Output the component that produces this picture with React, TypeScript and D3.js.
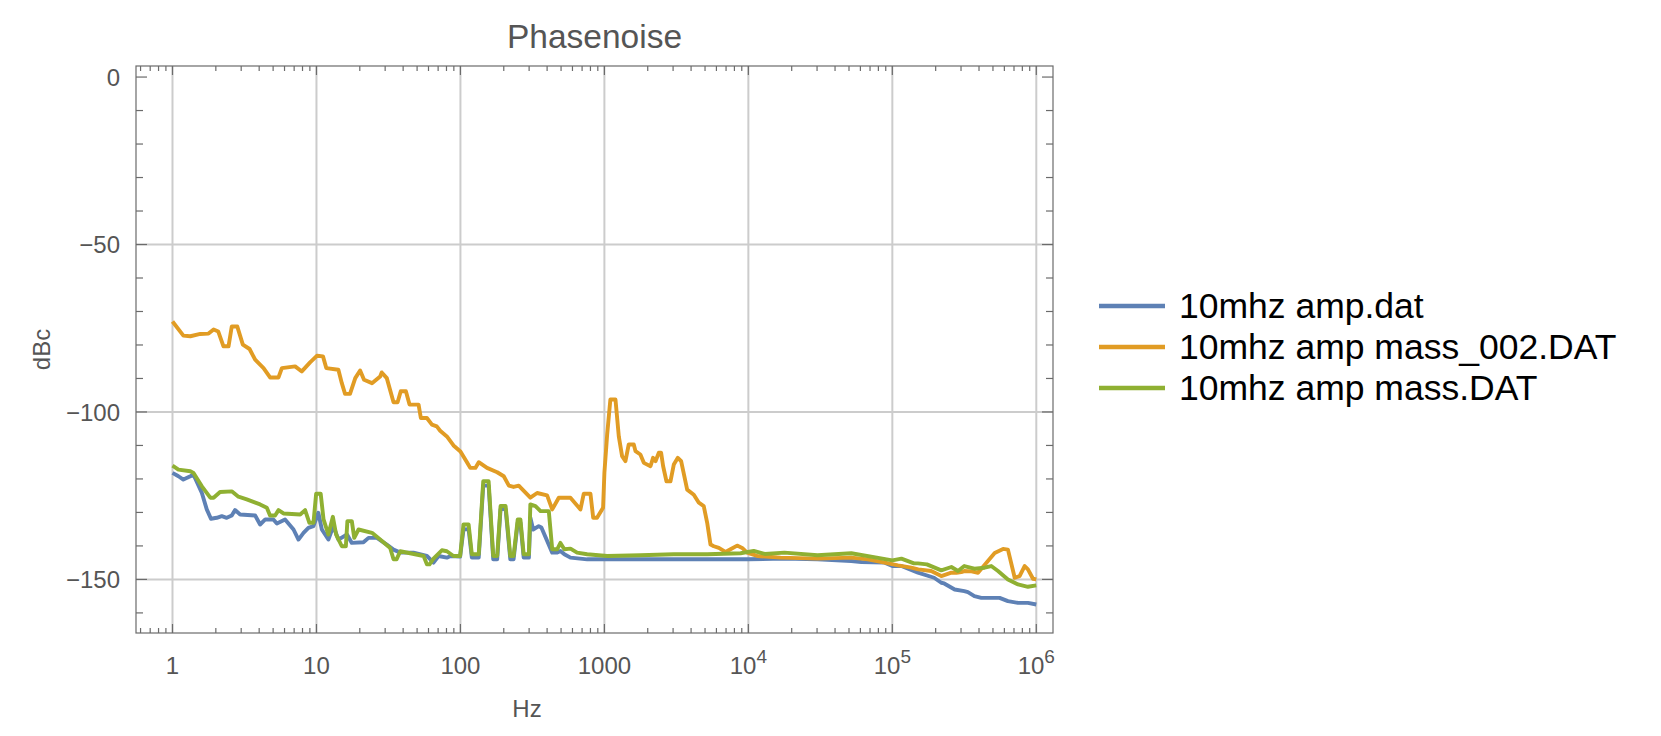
import React, { useEffect, useRef } from "react";
import * as d3 from "d3";

const W = 1661;
const H = 736;

// frame of the plot area (px)
const frame = { left: 136, right: 1053, top: 66, bottom: 633 };

const colors = {
  AMP: "#5E81B5",
  MASS_002: "#E19C24",
  MASS: "#8FB032",
  FRAME: "#6b6b6b",
  GRID: "#cccccc",
  TEXT: "#555555",
};

const legendLabels = ["10mhz amp.dat", "10mhz amp mass_002.DAT", "10mhz amp mass.DAT"];
const xMajorTicks = [1, 10, 100, 1000, 1e4, 1e5, 1e6];
const yMajorTicks = [0, -50, -100, -150];
const yGridValues = [-50, -100, -150];

// 10mhz amp.dat
const ampHz = [
  1, 1.1, 1.19, 1.33, 1.4, 1.6, 1.73, 1.85, 2.03, 2.2, 2.38, 2.58, 2.72, 2.95, 3.75, 4.06, 4.41, 5.02, 5.31, 6.05,
  6.93, 7.5, 8.13, 8.79, 9.53, 10.3, 10.9, 12.1, 13.1, 14.2, 16.3, 17.6, 21.2, 23, 26.3, 30.8, 34.3, 38.2, 47.2,
  58.5, 65, 70.5, 80.5, 85.3, 99.5, 105, 114, 120, 134, 144, 157, 169, 180, 190, 206, 222, 234, 250, 261, 275, 299,
  306, 320, 350, 365, 434, 470, 495, 527, 581, 759, 1000, 3000, 10000, 17780, 30200, 51880, 60950, 88510, 100000,
  115600, 150700, 195000, 218800, 229100, 271000, 316200, 335000, 371500, 415000, 486400, 556000, 635300, 746400,
  875000, 1000000,
];
const ampDb = [
  -118.2, -119.2, -120.2, -119.2, -118.7, -124.2, -129.1, -131.9, -131.6, -131.1, -131.6, -130.9, -129.3, -130.6,
  -130.9, -133.6, -132.1, -132.1, -133.3, -132.1, -135.1, -138.1, -136.1, -134.6, -134.1, -130.1, -135.1, -138.1,
  -134.1, -138.1, -136.6, -139.1, -138.9, -137.6, -137.6, -139.6, -141.1, -142, -142, -143, -145, -143, -143.5,
  -143, -143.2, -135.1, -135, -143.5, -143.5, -122, -122, -144, -144, -129, -129, -144, -144, -133, -133, -143.5,
  -143.5, -131.6, -135.1, -134.1, -134.5, -142, -142, -141.5, -142.5, -143.5, -144, -144, -144, -144, -143.8,
  -144, -144.5, -144.8, -145, -146, -146, -148, -149.5, -151, -151.2, -153, -153.5, -153.8, -155, -155.5, -155.5,
  -155.5, -156.5, -157, -157, -157.5,
];

// 10mhz amp mass_002.DAT
const mass002Hz = [
  1, 1.19, 1.33, 1.56, 1.78, 1.93, 2.08, 2.26, 2.45, 2.58, 2.82, 3.08, 3.43, 3.75, 4.29, 4.76, 5.45, 5.75, 7.11,
  7.91, 9.03, 10.1, 11.1, 11.7, 14.2, 15, 15.8, 17.1, 18.6, 20.1, 21.4, 24.3, 27.7, 28.4, 30.8, 34.3, 36.6, 38.5,
  41.8, 44.3, 51.2, 53.1, 58.5, 63.4, 68.5, 72.3, 80.5, 89.5, 100, 111, 117, 127, 134, 153, 180, 200, 217, 234,
  254, 306, 341, 400, 434, 482, 581, 682, 719, 800, 836, 889, 979, 1000, 1045, 1100, 1194, 1259, 1327, 1400, 1476,
  1600, 1644, 1778, 1879, 2089, 2178, 2265, 2388, 2477, 2559, 2698, 2877, 3034, 3236, 3412, 3758, 4178, 4529, 4898,
  5176, 5458, 5754, 6237, 6934, 7516, 8356, 9057, 9795, 11510, 16710, 30200, 51880, 67600, 88510, 109600, 135500,
  151400, 186200, 218800, 257000, 278600, 301300, 316200, 354800, 393600, 461300, 514000, 587500, 635300, 707900,
  765600, 829800, 875000, 948400, 1000000,
];
const mass002Db = [
  -73, -77.2, -77.4, -76.7, -76.6, -75.4, -76, -80.4, -80.4, -74.5, -74.5, -79.9, -81.2, -84.4, -86.9, -89.7,
  -89.7, -86.9, -86.4, -87.9, -85.2, -83.2, -83.4, -86.9, -87.4, -91.4, -94.6, -94.6, -89.9, -87.6, -90.4, -91.4,
  -89.4, -88.2, -89.9, -97.1, -97.1, -93.8, -93.8, -97.8, -97.8, -101.8, -101.8, -103.8, -104.3, -105.6, -107.3,
  -110, -111.8, -115, -116.7, -116.7, -115, -116.7, -118, -119.2, -122, -122.4, -122, -125.6, -124.2, -124.9,
  -129.1, -125.6, -125.6, -129.1, -124.4, -124.4, -131.6, -131.6, -128.6, -118.2, -106.8, -96.3, -96.3, -107.3,
  -113.2, -114.7, -109.7, -109.7, -111.7, -112.7, -115.2, -116.2, -113.7, -114.7, -112.2, -112.2, -116.2, -120.7,
  -120.7, -115.7, -113.7, -114.7, -123.2, -124.7, -127.1, -128.1, -133.1, -139.6, -140.1, -140.6, -141.8, -141,
  -139.9, -140.6, -142, -143, -143.5, -143.8, -143.5, -144, -145, -145.8, -146.5, -147, -147.5, -149, -148, -148,
  -147.8, -147.5, -147.6, -148, -144.5, -142.1, -140.9, -141.1, -149.5, -149, -146, -147, -149.8, -150,
];

// 10mhz amp mass.DAT
const massHz = [
  1, 1.1, 1.33, 1.4, 1.6, 1.83, 1.93, 2.14, 2.58, 2.87, 3.28, 4.06, 4.52, 4.76, 5.16, 5.45, 5.9, 7.71, 8.34, 8.93,
  9.53, 9.95, 10.7, 11.2, 12.1, 13, 13.7, 15, 16, 16.4, 17.6, 18.3, 19.6, 24.3, 27.7, 32.5, 34.3, 36, 38.2, 55.5,
  58.5, 61, 65, 74.3, 80.5, 89.5, 99.5, 105, 114, 120, 134, 144, 157, 169, 180, 190, 206, 222, 234, 250, 261, 275,
  299, 306, 332, 360, 411, 434, 470, 495, 527, 581, 646, 759, 1045, 1778, 3034, 5176, 8836, 10900, 13000, 17780,
  30200, 51880, 100000, 115600, 141300, 150700, 173800, 218800, 257000, 285800, 316200, 371500, 437500, 486400,
  542000, 635300, 746400, 875000, 1000000,
];
const massDb = [
  -116, -117.2, -117.7, -118.2, -122.2, -125.6, -125.6, -123.9, -123.7, -125.3, -126.1, -127.6, -128.6, -130.9,
  -130.9, -129.3, -130.3, -130.6, -129.3, -133.1, -133.1, -124.4, -124.4, -132.1, -136.6, -131.3, -136.6, -140.1,
  -140.1, -132.6, -132.6, -137.6, -135.1, -136.1, -138.1, -140.6, -144, -144, -141.6, -143, -145.5, -145.5, -143.8,
  -141.3, -141.6, -143, -143, -133.6, -133.6, -142.5, -142.5, -120.7, -120.7, -143, -143, -128.1, -128.1, -143,
  -143, -132.1, -132.1, -142.5, -142.5, -127.6, -128.1, -129.6, -129.6, -141, -141, -139.1, -141, -140.8, -142,
  -142.5, -143, -142.8, -142.5, -142.5, -142.2, -141.5, -142.4, -142, -142.8, -142.2, -144.3, -143.8, -145.2,
  -145.2, -145.5, -147.3, -146.3, -147.5, -146, -146.8, -146.5, -146, -147.5, -150, -151.5, -152.2, -151.8,
];

const series = [
  { label: legendLabels[0], hz: ampHz, db: ampDb, color: colors.AMP },
  { label: legendLabels[1], hz: mass002Hz, db: mass002Db, color: colors.MASS_002 },
  { label: legendLabels[2], hz: massHz, db: massDb, color: colors.MASS },
];

const FONT = "'Liberation Sans', Arial, sans-serif";

export default function App() {
  const ref = useRef<SVGSVGElement | null>(null);

  useEffect(() => {
    const svg = d3.select(ref.current);
    svg.selectAll("*").remove();

    const x = d3.scaleLog().domain([10 ** -0.2535, 10 ** 6.116]).range([frame.left, frame.right]);
    const y = d3.scaleLinear().domain([3.3, -166]).range([frame.top, frame.bottom]);

    svg.append("rect").attr("width", W).attr("height", H).attr("fill", "white");

    // grid
    const grid = svg.append("g").attr("stroke", colors.GRID).attr("stroke-width", 2);
    xMajorTicks.forEach((v) => {
      grid.append("line").attr("x1", x(v)).attr("x2", x(v)).attr("y1", frame.top).attr("y2", frame.bottom);
    });
    yGridValues.forEach((v) => {
      grid.append("line").attr("x1", frame.left).attr("x2", frame.right).attr("y1", y(v)).attr("y2", y(v));
    });

    // data lines
    svg
      .append("clipPath")
      .attr("id", "plot-clip")
      .append("rect")
      .attr("x", frame.left)
      .attr("y", frame.top)
      .attr("width", frame.right - frame.left)
      .attr("height", frame.bottom - frame.top);

    const line = d3
      .line<[number, number]>()
      .x((d) => x(d[0]))
      .y((d) => y(d[1]));

    const lines = svg.append("g").attr("clip-path", "url(#plot-clip)");
    series.forEach((s) => {
      const pts = s.hz.map((h, i) => [h, s.db[i]] as [number, number]);
      lines
        .append("path")
        .attr("d", line(pts))
        .attr("fill", "none")
        .attr("stroke", s.color)
        .attr("stroke-width", 3.9)
        .attr("stroke-linejoin", "round");
    });

    // frame
    svg
      .append("rect")
      .attr("x", frame.left)
      .attr("y", frame.top)
      .attr("width", frame.right - frame.left)
      .attr("height", frame.bottom - frame.top)
      .attr("fill", "none")
      .attr("stroke", colors.FRAME)
      .attr("stroke-width", 1.2);

    // ticks
    const ticks = svg.append("g").attr("stroke", colors.FRAME).attr("stroke-width", 1.2);
    x.ticks().forEach((v) => {
      const major = Math.abs(Math.log10(v) - Math.round(Math.log10(v))) < 1e-9;
      const len = major ? 9 : 5;
      const px = x(v);
      ticks.append("line").attr("x1", px).attr("x2", px).attr("y1", frame.bottom).attr("y2", frame.bottom - len);
      ticks.append("line").attr("x1", px).attr("x2", px).attr("y1", frame.top).attr("y2", frame.top + len);
    });
    d3.range(-160, 1, 10).forEach((v) => {
      const major = v % 50 === 0;
      const len = major ? 11 : 7;
      const py = y(v);
      ticks.append("line").attr("x1", frame.left).attr("x2", frame.left + len).attr("y1", py).attr("y2", py);
      ticks.append("line").attr("x1", frame.right).attr("x2", frame.right - len).attr("y1", py).attr("y2", py);
    });

    // tick labels
    const labels = svg.append("g").attr("font-family", FONT).attr("fill", colors.TEXT).attr("font-size", 24);
    xMajorTicks.forEach((v) => {
      const e = Math.round(Math.log10(v));
      const t = labels.append("text").attr("x", x(v)).attr("y", 674).attr("text-anchor", "middle");
      if (e < 4) {
        t.text(String(v));
      } else {
        t.append("tspan").text("10");
        t.append("tspan").attr("dy", -11).attr("font-size", 19).text(String(e));
      }
    });
    yMajorTicks.forEach((v) => {
      labels
        .append("text")
        .attr("x", 120)
        .attr("y", y(v))
        .attr("dy", "0.36em")
        .attr("text-anchor", "end")
        .text(v === 0 ? "0" : `\u2212${Math.abs(v)}`);
    });

    // title and axis labels
    svg
      .append("text")
      .attr("x", (frame.left + frame.right) / 2)
      .attr("y", 48)
      .attr("text-anchor", "middle")
      .attr("font-family", FONT)
      .attr("font-size", 33.5)
      .attr("fill", colors.TEXT)
      .text("Phasenoise");
    svg
      .append("text")
      .attr("transform", `translate(50,${(frame.top + frame.bottom) / 2}) rotate(-90)`)
      .attr("text-anchor", "middle")
      .attr("font-family", FONT)
      .attr("font-size", 24)
      .attr("fill", colors.TEXT)
      .text("dBc");
    svg
      .append("text")
      .attr("x", 527)
      .attr("y", 717)
      .attr("text-anchor", "middle")
      .attr("font-family", FONT)
      .attr("font-size", 24)
      .attr("fill", colors.TEXT)
      .text("Hz");

    // legend
    const legend = svg.append("g").attr("font-family", FONT).attr("font-size", 35.5);
    series.forEach((s, i) => {
      const ly = 306 + i * 41;
      legend
        .append("line")
        .attr("x1", 1099)
        .attr("x2", 1165)
        .attr("y1", ly)
        .attr("y2", ly)
        .attr("stroke", s.color)
        .attr("stroke-width", 4.5);
      legend
        .append("text")
        .attr("x", 1179)
        .attr("y", ly)
        .attr("dy", "0.35em")
        .attr("fill", "black")
        .text(s.label);
    });
  }, []);

  return (
    <svg
      ref={ref}
      width={W}
      height={H}
      style={{ position: "absolute", left: 0, top: 0, display: "block" }}
    />
  );
}
